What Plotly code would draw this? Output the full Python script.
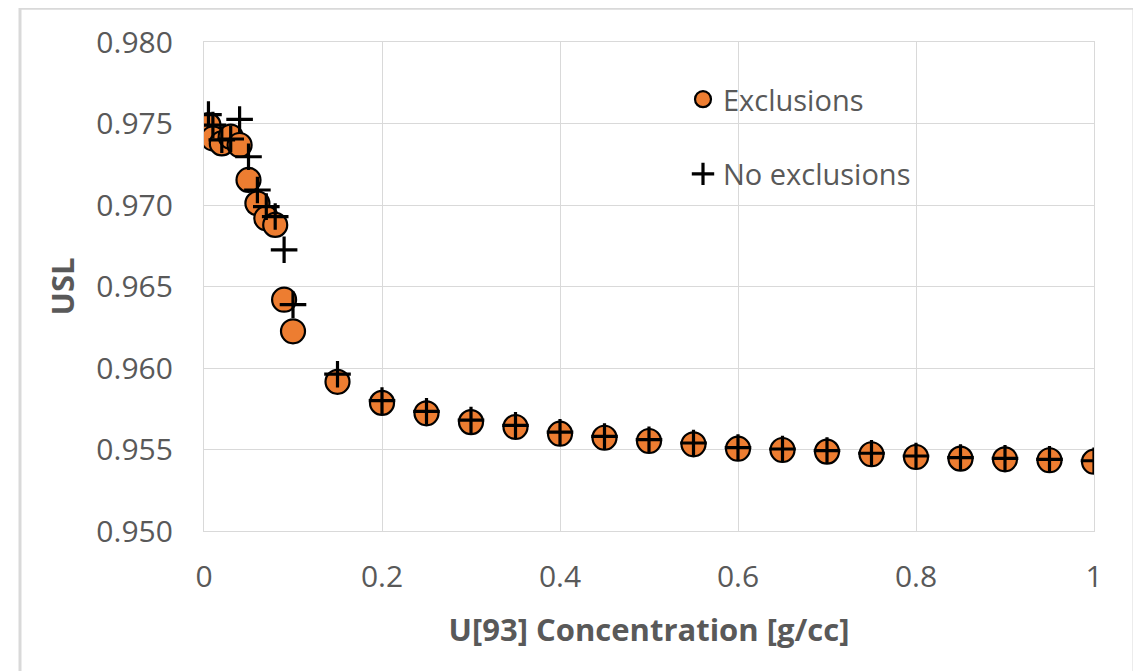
import plotly.graph_objects as go

# ---- data ----
conc_excl = [0.005, 0.01, 0.02, 0.03, 0.04, 0.05, 0.06, 0.07, 0.08, 0.09, 0.10,
             0.15, 0.20, 0.25, 0.30, 0.35, 0.40, 0.45, 0.50, 0.55, 0.60,
             0.65, 0.70, 0.75, 0.80, 0.85, 0.90, 0.95, 1.00]
usl_excl = [0.97490, 0.97408, 0.97378, 0.97419, 0.97368, 0.97154, 0.97010, 0.96919,
            0.96878, 0.96419, 0.96225, 0.95915, 0.95786, 0.95722, 0.95668, 0.95638,
            0.95597, 0.95572, 0.95552, 0.95532, 0.95505, 0.95497, 0.95487, 0.95471,
            0.95454, 0.95444, 0.95440, 0.95434, 0.95425]

conc_noexcl = [0.005, 0.01, 0.02, 0.03, 0.04, 0.05, 0.06, 0.07, 0.08, 0.09, 0.10,
               0.15, 0.20, 0.25, 0.30, 0.35, 0.40, 0.45, 0.50, 0.55, 0.60,
               0.65, 0.70, 0.75, 0.80, 0.85, 0.90, 0.95, 1.00]
usl_noexcl = [0.97555, 0.97490, 0.97400, 0.97405, 0.97525, 0.97296, 0.97092, 0.96990,
              0.96929, 0.96725, 0.96389, 0.95962, 0.95800, 0.95734, 0.95680, 0.95648,
              0.95606, 0.95580, 0.95560, 0.95540, 0.95512, 0.95503, 0.95493, 0.95477,
              0.95460, 0.95450, 0.95446, 0.95440, 0.95431]

x_ticks = [0, 0.2, 0.4, 0.6, 0.8, 1.0]
x_tick_labels = ["0", "0.2", "0.4", "0.6", "0.8", "1"]
y_ticks = [0.950, 0.955, 0.960, 0.965, 0.970, 0.975, 0.980]
y_tick_labels = ["0.950", "0.955", "0.960", "0.965", "0.970", "0.975", "0.980"]

# ---- layout constants ----
OFF = 8  # default page body margin
W, H = 1141, 671
PL, PR, PT, PB = 204, 1094, 40, 531  # plot area in page pixels
ML, MT = PL - OFF, PT - OFF
MR = W - PR + OFF
MB = H - PB + OFF
PW = PR - PL
PH = PB - PT
FONT = "Open Sans"
GRAY = "#595959"
GRID = "#D9D9D9"

fig = go.Figure()
fig.add_trace(go.Scatter(
    x=conc_excl, y=usl_excl, mode="markers", name="Exclusions",
    legendgroup="a",
    marker=dict(symbol="circle", size=24, color="#ED7D31",
                line=dict(color="#000000", width=2.2)),
))
fig.add_trace(go.Scatter(
    x=conc_noexcl, y=usl_noexcl, mode="markers", name="No exclusions",
    legendgroup="b",
    marker=dict(symbol="cross-thin", size=19, color="#000000",
                line=dict(color="#000000", width=3.2)),
))

def px_x(px):
    return (px - PL) / PW

def px_y(py):
    return (PB - py) / PH

fig.update_layout(
    width=W, height=H,
    margin=dict(l=ML, r=MR, t=MT, b=MB, pad=0),
    paper_bgcolor="white", plot_bgcolor="white",
    font=dict(family=FONT, color=GRAY, size=29),
    showlegend=True,
    legend=dict(
        x=px_x(683), y=px_y(72), xanchor="left", yanchor="top",
        bgcolor="rgba(0,0,0,0)", font=dict(size=29, color=GRAY, family=FONT),
        tracegroupgap=34, traceorder="grouped", itemsizing="trace",
    ),
    xaxis=dict(
        range=[0, 1], tickvals=x_ticks, ticktext=x_tick_labels,
        showgrid=True, gridcolor=GRID, gridwidth=1.3,
        showline=True, linecolor=GRID, linewidth=1.3, mirror=True,
        zeroline=False, ticks="", ticklabelstandoff=19,
        tickfont=dict(size=30, color=GRAY, family=FONT),
        title=dict(text="<b>U[93] Concentration [g/cc]</b>",
                   font=dict(size=31, color=GRAY, family=FONT), standoff=24),
    ),
    yaxis=dict(
        range=[0.950, 0.980], tickvals=y_ticks, ticktext=y_tick_labels,
        showgrid=True, gridcolor=GRID, gridwidth=1.3,
        showline=True, linecolor=GRID, linewidth=1.3, mirror=True,
        zeroline=False, ticks="", ticklabelstandoff=24,
        tickfont=dict(size=30, color=GRAY, family=FONT),
        title=dict(text="<b>USL</b>",
                   font=dict(size=31, color=GRAY, family=FONT), standoff=12),
    ),
    shapes=[dict(
        type="rect", xref="paper", yref="paper", layer="below",
        x0=px_x(20), x1=px_x(1134), y0=px_y(700), y1=px_y(6),
        line=dict(color=GRID, width=3), fillcolor="rgba(0,0,0,0)",
    )],
)

fig.write_html("out.html")
